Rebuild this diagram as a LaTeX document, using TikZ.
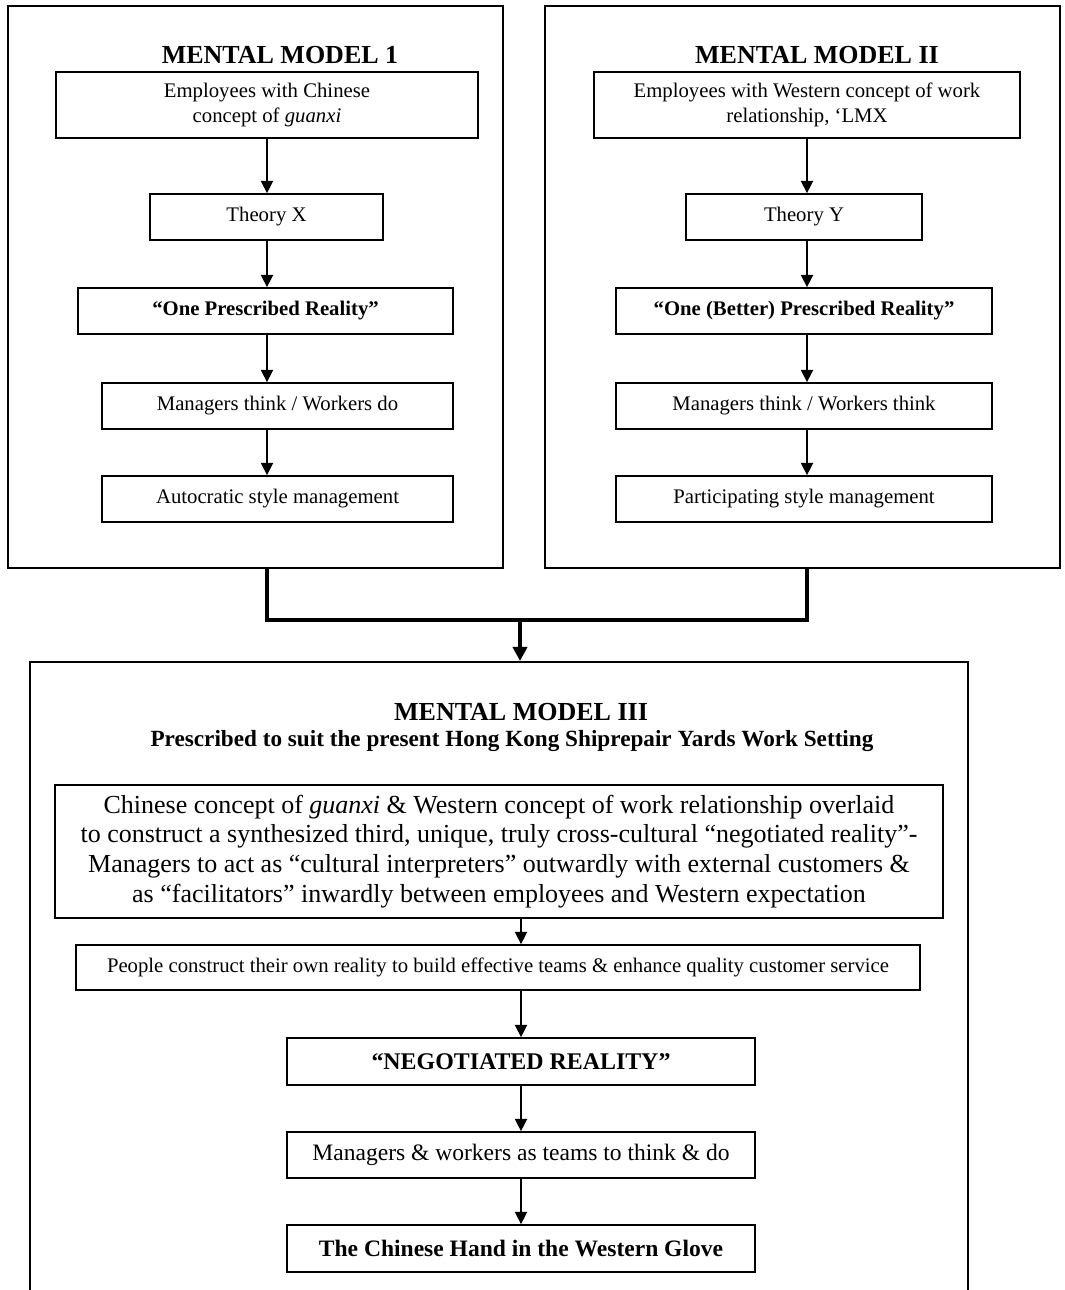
\documentclass[tikz,border=0pt]{standalone}
\usepackage{fontspec}
\setmainfont{Liberation Serif}
\usetikzlibrary{arrows.meta}

\begin{document}
\begin{tikzpicture}[
        x=0.02cm, y=-0.02cm,
        frame/.style={rectangle, draw, line width=1.2pt},
        box/.style={rectangle, draw, line width=1pt, align=center, inner sep=2pt, font=\fontsize{11.8}{14}\selectfont},
        title/.style={font=\fontsize{14.8}{16}\selectfont\bfseries},
        subtitle/.style={font=\fontsize{13.2}{15}\selectfont\bfseries},
        big/.style={font=\fontsize{13.4}{15}\selectfont},
        arrow/.style={-{Triangle[length=7pt, width=7pt]}, line width=0.8pt},
        joinline/.style={line width=2.6pt},
        joinarrow/.style={-{Triangle[length=8pt, width=8pt]}, line width=2.2pt}
    ]
        \useasboundingbox (0,0) rectangle (1064,1290);

        % Frames
        \node[frame, minimum width=9.9cm, minimum height=11.24cm] (modelI) at (255.5,287) {};
        \node[frame, minimum width=10.3cm, minimum height=11.24cm] (modelII) at (802.5,287) {};
        \node[frame, minimum width=18.76cm, minimum height=12.76cm] (modelIII) at (499,981) {};

        % Mental model 1
        \node[title] (titleI) at (280,55) {MENTAL MODEL 1};
        \node[box, minimum width=8.44cm, minimum height=1.32cm] (empI) at (267,105) {Employees with Chinese\\concept of \textit{guanxi}};
        \node[box, minimum width=4.66cm, minimum height=0.92cm] (theoryX) at (266.5,217) {Theory X};
        \node[box, minimum width=7.5cm, minimum height=0.92cm, font=\fontsize{11.8}{14}\selectfont\bfseries] (realityI) at (265.5,311) {``One Prescribed Reality''};
        \node[box, minimum width=7.02cm, minimum height=0.92cm] (thinkI) at (277.5,406) {Managers think / Workers do};
        \node[box, minimum width=7.02cm, minimum height=0.92cm] (styleI) at (277.5,499) {Autocratic style management};

        % Mental model II
        \node[title] (titleII) at (817,55) {MENTAL MODEL II};
        \node[box, minimum width=8.52cm, minimum height=1.32cm] (empII) at (807,105) {Employees with Western concept of work\\relationship, `LMX};
        \node[box, minimum width=4.72cm, minimum height=0.92cm] (theoryY) at (804,217) {Theory Y};
        \node[box, minimum width=7.52cm, minimum height=0.92cm, font=\fontsize{11.8}{14}\selectfont\bfseries] (realityII) at (804,311) {``One (Better) Prescribed Reality''};
        \node[box, minimum width=7.52cm, minimum height=0.92cm] (thinkII) at (804,406) {Managers think / Workers think};
        \node[box, minimum width=7.52cm, minimum height=0.92cm] (styleII) at (804,499) {Participating style management};

        % Mental model III
        \node[title] (titleIII) at (521,712) {MENTAL MODEL III};
        \node[subtitle] (subIII) at (512,741) {Prescribed to suit the present Hong Kong Shiprepair Yards Work Setting};
        \node[box, minimum width=17.76cm, minimum height=2.66cm, font=\fontsize{14.8}{17}\selectfont] (overlay) at (499,851.5) {Chinese concept of \textit{guanxi} \& Western concept of work relationship overlaid\\to construct a synthesized third, unique, truly cross-cultural ``negotiated reality''-\\Managers to act as ``cultural interpreters'' outwardly with external customers \&\\as ``facilitators'' inwardly between employees and Western expectation};
        \node[box, minimum width=16.88cm, minimum height=0.9cm] (people) at (498,967.5) {People construct their own reality to build effective teams \& enhance quality customer service};
        \node[box, big, minimum width=9.36cm, minimum height=0.94cm, font=\fontsize{13.6}{15}\selectfont\bfseries] (negotiated) at (521,1061.5) {``NEGOTIATED REALITY''};
        \node[box, big, minimum width=9.36cm, minimum height=0.92cm] (teams) at (521,1155) {Managers \& workers as teams to think \& do};
        \node[box, big, minimum width=9.36cm, minimum height=0.94cm, font=\fontsize{13.4}{15}\selectfont\bfseries] (glove) at (521,1248.5) {The Chinese Hand in the Western Glove};

        % Arrows
        \foreach \a/\b in {empI/theoryX, theoryX/realityI, realityI/thinkI, thinkI/styleI}
            \draw[arrow] (\a.south -| empI.south) -- (\b.north -| empI.south);
        \foreach \a/\b in {empII/theoryY, theoryY/realityII, realityII/thinkII, thinkII/styleII}
            \draw[arrow] (\a.south -| empII.south) -- (\b.north -| empII.south);
        \foreach \a/\b in {overlay/people, people/negotiated, negotiated/teams, teams/glove}
            \draw[arrow] (\a.south -| glove.north) -- (\b.north -| glove.north);

        % Joining the two models
        \coordinate (merge) at (520,620);
        \draw[joinline] (modelI.south -| empI.south) |- (merge) -| (modelII.south -| empII.south);
        \draw[joinarrow] (merge) -- (merge |- modelIII.north);
    \end{tikzpicture}
\end{document}
